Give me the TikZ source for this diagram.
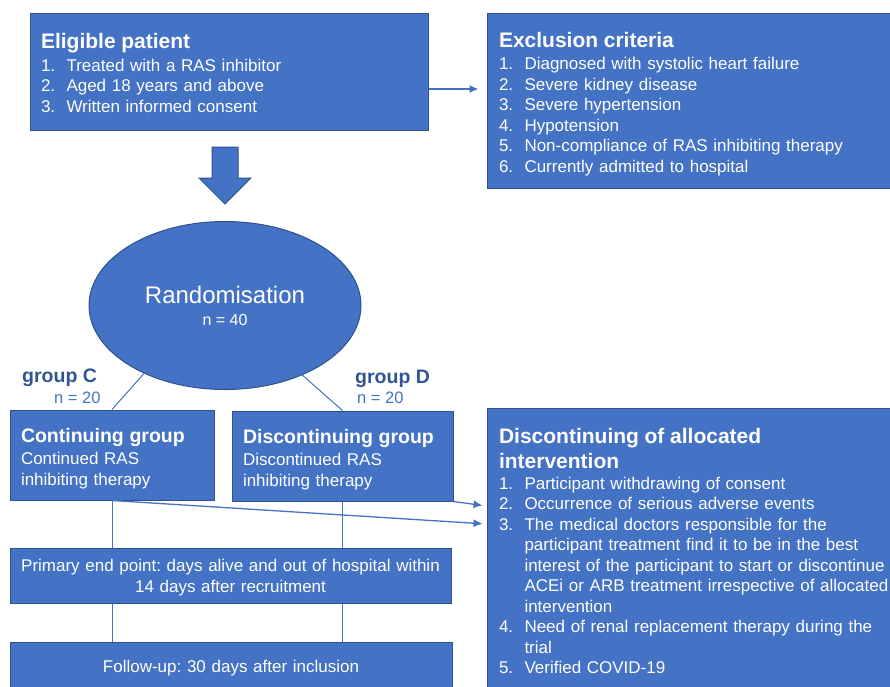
\documentclass[tikz,border=0pt]{standalone}
\usepackage{fontspec}
\setmainfont{Liberation Sans}
\usetikzlibrary{shapes.geometric,arrows.meta}
\frenchspacing
\definecolor{boxblue}{HTML}{4472C4}
\definecolor{edgeblue}{HTML}{2F528F}
\definecolor{labelblue}{HTML}{2F5597}
\newcommand{\itm}[2]{\par\hangindent=25.5pt\hangafter=1\noindent\makebox[25.5pt][l]{#1.}#2}
\newcommand{\ttl}[2][15pt]{{\bfseries\fontsize{21}{25}\selectfont\rule{0pt}{#1}#2\par}}
\newcommand{\sub}[2][14pt]{{\bfseries\fontsize{19.5}{23}\selectfont\rule{0pt}{#1}#2\par}}

\begin{document}
\begin{tikzpicture}[x=1pt,y=-1pt,
    box/.style={draw=edgeblue,fill=boxblue,line width=1pt,text=white,inner xsep=11pt,inner ysep=0pt,align=left,font=\fontsize{17}{20.5}\selectfont},
    oval/.style={ellipse,draw=edgeblue,fill=boxblue,line width=1pt,text=white,inner sep=0pt,minimum width=272pt,minimum height=168pt,align=center},
    grp/.style={anchor=base west,inner sep=0pt,text=labelblue,font=\bfseries\fontsize{19.5}{23}\selectfont},
    cnt/.style={anchor=base west,inner sep=0pt,text=boxblue,font=\fontsize{16.5}{20}\selectfont},
    link/.style={draw=boxblue,line width=1.3pt},
    tip/.style={-{Latex[length=9pt,width=8pt]}}]
  \useasboundingbox (0,0) rectangle (890,686);

  % criteria
  \node[box,text width=376pt,minimum height=117pt] (elig) at (229,71.5) {\ttl[18pt]{Eligible patient}\vspace{2pt}\itm{1}{Treated with a RAS inhibitor}\itm{2}{Aged 18 years and above}\itm{3}{Written informed consent}};
  \node[box,inner xsep=12pt,text width=390pt,minimum height=175pt] (excl) at (694,100.5) {\ttl[22pt]{Exclusion criteria}\vspace{2pt}\itm{1}{Diagnosed with systolic heart failure}\itm{2}{Severe kidney disease}\itm{3}{Severe hypertension}\itm{4}{Hypotension}\itm{5}{Non-compliance of RAS inhibiting therapy}\itm{6}{Currently admitted to hospital}};
  \draw[link,tip,shorten >=8pt] (elig.east |- 0,89) -- (excl.west |- 0,89);

  % big arrow down
  \filldraw[fill=boxblue,draw=edgeblue,line width=1pt] (212,147) -- (238,147) -- (238,178) -- (251,178) -- (225,204) -- (199,178) -- (212,178) -- cycle;

  % randomisation
  \node[oval] (rand) at (225,305.5) {{\fontsize{24}{24}\selectfont Randomisation}\\[10pt]{\fontsize{16}{18}\selectfont n = 40}};
  \node[grp] (gc) at (22,382) {group C};
  \node[cnt] (nc) at (54,403) {n = 20};
  \node[grp] (gd) at (355,383) {group D};
  \node[cnt] (nd) at (357,403) {n = 20};

  % groups
  \node[box,text width=182pt,minimum height=90pt,font=\fontsize{17}{21}\selectfont] (cont) at (112,455) {\sub[21pt]{Continuing group}\vspace{1pt}Continued RAS\\inhibiting therapy};
  \node[box,text width=199pt,minimum height=90pt,font=\fontsize{17}{21}\selectfont] (disc) at (342.5,456) {\sub[22pt]{Discontinuing group}\vspace{1pt}Discontinued RAS\\inhibiting therapy};
  \draw[link,line width=1pt] (rand.220) -- (cont.north);
  \draw[link,line width=1pt] (rand.318) -- (disc.north);

  % end points
  \node[box,inner xsep=5pt,text width=431pt,minimum height=55pt,align=center] (prim) at (230.5,575.5) {\rule{0pt}{17pt}Primary end point: days alive and out of hospital within\\14 days after recruitment};
  \node[box,text width=420pt,minimum height=52pt,align=center] (follow) at (231,668) {Follow-up: 30 days after inclusion};
  \draw[link,line width=1pt] (cont.south) -- (cont.south |- prim.north);
  \draw[link,line width=1pt] (disc.south) -- (disc.south |- prim.north);
  \draw[link,line width=1pt] (cont.south |- prim.south) -- (cont.south |- follow.north);
  \draw[link,line width=1pt] (disc.south |- prim.south) -- (disc.south |- follow.north);

  % stopping
  \node[box,inner xsep=12pt,text width=390pt,minimum height=286pt] (stop) at (694,551) {\ttl{Discontinuing of allocated\\intervention}\itm{1}{Participant withdrawing of consent}\itm{2}{Occurrence of serious adverse events}\itm{3}{The medical doctors responsible for the\newline participant treatment find it to be in the best\newline interest of the participant to start or discontinue\newline ACEi or ARB treatment irrespective of allocated\newline intervention}\itm{4}{Need of renal replacement therapy during the\newline trial}\itm{5}{Verified COVID-19}};
  \draw[link,tip,shorten >=4pt] (disc.south east) -- (stop.west |- 0,506);
  \draw[link,tip,shorten >=4pt] (cont.south) -- (stop.west |- 0,524);
\end{tikzpicture}
\end{document}
